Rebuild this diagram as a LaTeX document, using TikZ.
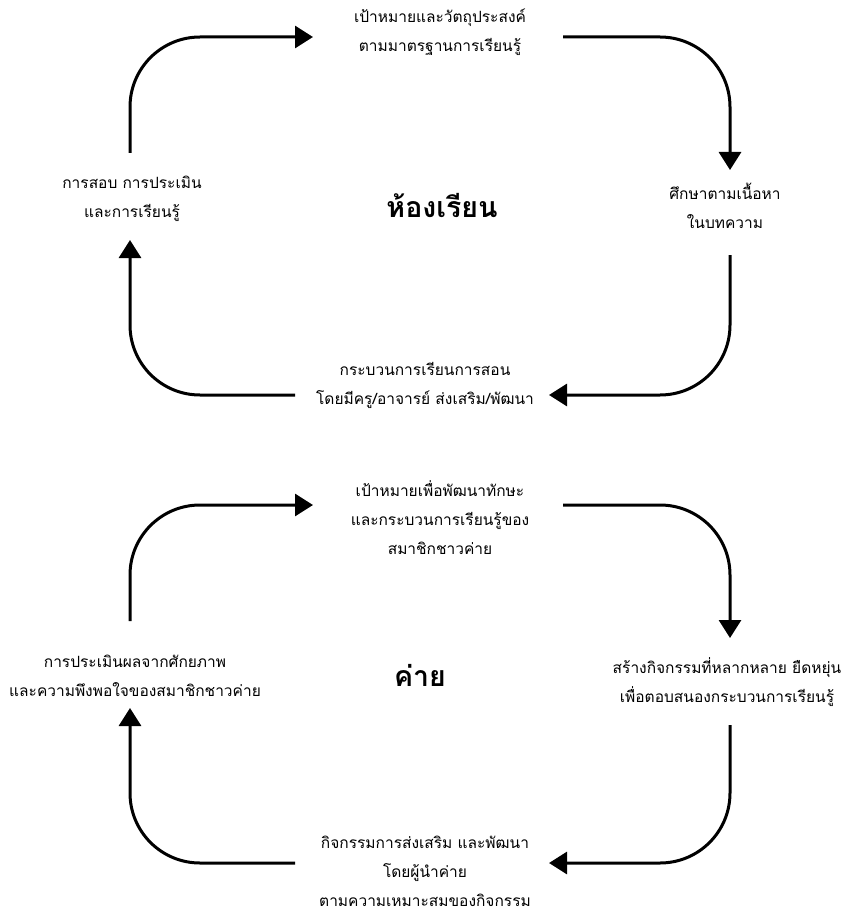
\documentclass[tikz,border=0pt]{standalone}
\usepackage{fontspec}
\newfontfamily\thai[Script=Thai]{Loma}
\usetikzlibrary{arrows.meta}
\begin{document}
\begin{tikzpicture}[x=1pt,y=-1pt,
  lbl/.style={font=\thai\fontsize{15.5}{29}\selectfont, align=center, inner sep=0pt},
  ttl/.style={font=\thai\bfseries\fontsize{28.5}{30}\selectfont, inner sep=0pt},
  conn/.style={line width=3pt, rounded corners=70pt, -{Triangle[length=18pt,width=22pt]}}]
\useasboundingbox (0,0) rectangle (849,912);
% ---------- classroom loop ----------
\node[lbl] (t1) at (440,32) {เป้าหมายและวัตถุประสงค์\\ตามมาตรฐานการเรียนรู้};
\node[lbl] (r1) at (725,206) {ศึกษาตามเนื้อหา\\ในบทความ};
\node[lbl] (b1) at (425,385) {กระบวนการเรียนการสอน\\โดยมีครู/อาจารย์ ส่งเสริม/พัฒนา};
\node[lbl] (l1) at (132,199) {การสอบ การประเมิน\\และการเรียนรู้};
\node[ttl] (c1) at (442,205) {ห้องเรียน};
\coordinate (a1s) at (130,153); \coordinate (a1c) at (130,37); \coordinate (a1e) at (313,37);
\coordinate (a2s) at (563,37); \coordinate (a2c) at (730,37); \coordinate (a2e) at (730,170);
\coordinate (a3s) at (730,255); \coordinate (a3c) at (730,395); \coordinate (a3e) at (549,395);
\coordinate (a4s) at (295,395); \coordinate (a4c) at (130,395); \coordinate (a4e) at (130,240);
\draw[conn] (a1s) -- (a1c) -- (a1e);
\draw[conn] (a2s) -- (a2c) -- (a2e);
\draw[conn] (a3s) -- (a3c) -- (a3e);
\draw[conn] (a4s) -- (a4c) -- (a4e);
% ---------- camp loop ----------
\node[lbl] (t2) at (440,518) {เป้าหมายเพื่อพัฒนาทักษะ\\และกระบวนการเรียนรู้ของ\\สมาชิกชาวค่าย};
\node[lbl] (r2) at (727,682) {สร้างกิจกรรมที่หลากหลาย ยืดหยุ่น\\เพื่อตอบสนองกระบวนการเรียนรู้};
\node[lbl] (b2) at (425,871) {กิจกรรมการส่งเสริม และพัฒนา\\โดยผู้นำค่าย\\ตามความเหมาะสมของกิจกรรม};
\node[lbl] (l2) at (135,676) {การประเมินผลจากศักยภาพ\\และความพึงพอใจของสมาชิกชาวค่าย};
\node[ttl] (c2) at (420,675) {ค่าย};
\coordinate (b1s) at (130,621); \coordinate (b1c) at (130,505); \coordinate (b1e) at (313,505);
\coordinate (b2s) at (563,505); \coordinate (b2c) at (730,505); \coordinate (b2e) at (730,638);
\coordinate (b3s) at (730,725); \coordinate (b3c) at (730,863); \coordinate (b3e) at (549,863);
\coordinate (b4s) at (295,863); \coordinate (b4c) at (130,863); \coordinate (b4e) at (130,708);
\draw[conn] (b1s) -- (b1c) -- (b1e);
\draw[conn] (b2s) -- (b2c) -- (b2e);
\draw[conn] (b3s) -- (b3c) -- (b3e);
\draw[conn] (b4s) -- (b4c) -- (b4e);
\end{tikzpicture}
\end{document}
